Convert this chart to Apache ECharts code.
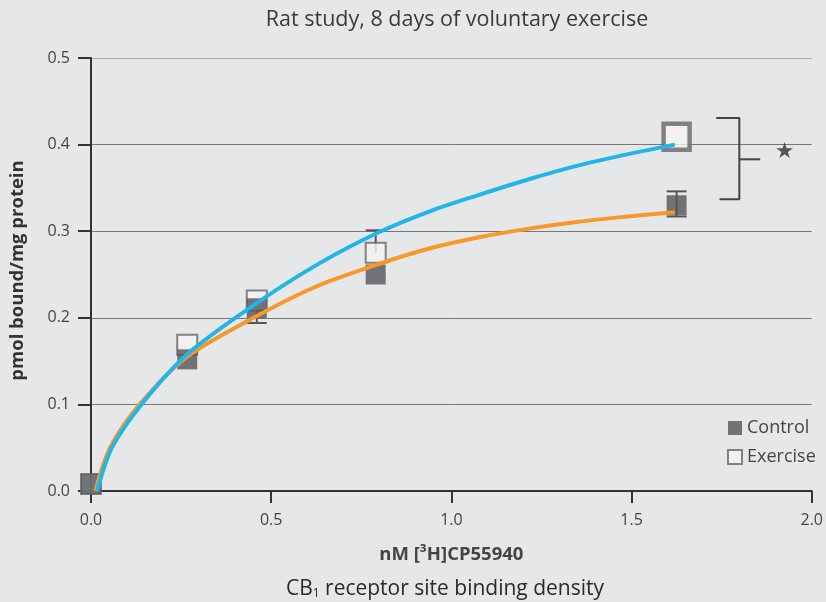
<!DOCTYPE html>
<html><head><meta charset="utf-8">
<script src="https://cdn.jsdelivr.net/npm/echarts@6/dist/echarts.min.js"></script>
<style>html,body{margin:0;padding:0;background:#e6e7e9;}#c{width:826px;height:602px;}</style>
</head><body><div id="c"></div>
<script>
// ---- data ----
const titleText = 'Rat study, 8 days of voluntary exercise';
const xAxisName = 'nM [³H]CP55940';
const yAxisName = 'pmol bound/mg protein';
const seriesNames = ['Control', 'Exercise'];

const pointX = [0.0, 0.267, 0.46, 0.79, 1.625];
const controlY = [0.008, 0.152, 0.211, 0.250, 0.330];
const exerciseY = [0.008, 0.169, 0.220, 0.275, 0.409];

const controlErrLow  = [null, null, 0.194, null, 0.317];
const controlErrHigh = [null, null, null, null, 0.346];
const exerciseErrHigh = [null, null, null, 0.301, null];

const exerciseFitX = [0.017, 0.058, 0.14, 0.267, 0.46, 0.63, 0.80, 0.94, 1.077, 1.215, 1.353, 1.49, 1.62];
const exerciseFitY = [0.0, 0.05, 0.10, 0.158, 0.217, 0.262, 0.299, 0.323, 0.342, 0.360, 0.376, 0.389, 0.400];
const controlFitX = [0.012, 0.053, 0.135, 0.267, 0.46, 0.63, 0.82, 0.939, 1.077, 1.215, 1.353, 1.49, 1.62];
const controlFitY = [0.0, 0.05, 0.10, 0.155, 0.202, 0.237, 0.265, 0.280, 0.293, 0.303, 0.311, 0.317, 0.322];

const bracketX = [1.735, 1.799, 1.799, 1.744];
const bracketY = [0.4306, 0.4306, 0.3368, 0.3368];
const bracketTickX = [1.799, 1.857];
const bracketTickY = [0.383, 0.383];
const starPos = [1.925, 0.391];

// ---- build ----
const zip = (a, b) => a.map((v, i) => [v, b[i]]);
const whiskers = [];
pointX.forEach((x, i) => {
  if (controlErrLow[i] != null) whiskers.push([x, controlY[i], controlErrLow[i]]);
  if (controlErrHigh[i] != null) whiskers.push([x, controlY[i], controlErrHigh[i]]);
  if (exerciseErrHigh[i] != null) whiskers.push([x, exerciseY[i], exerciseErrHigh[i]]);
});
const lastIdx = pointX.length - 1;
const exerciseData = zip(pointX, exerciseY).map((d, i) =>
  i === lastIdx ? {value: d, symbolSize: 26, itemStyle: {borderWidth: 4.5}} : d);

const FONT = 'Open Sans';
const chart = echarts.init(document.getElementById('c'), null, {renderer: 'canvas'});
chart.setOption({
  backgroundColor: '#e6e7e9',
  animation: false,
  textStyle: {fontFamily: FONT},
  title: [{
    text: titleText, left: 452, textAlign: 'center', top: 4,
    textStyle: {fontFamily: FONT, fontSize: 21.5, fontWeight: 'normal', color: '#3a3a3a'}
  }, {
    text: '{a|CB}{s|1}{a| receptor site binding density}', left: 440, textAlign: 'center', top: 573,
    textStyle: {fontWeight: 'normal', rich: {
      a: {fontFamily: FONT, fontSize: 21, fontWeight: 'normal', color: '#2a2a2a'},
      s: {fontFamily: FONT, fontSize: 12, fontWeight: 'normal', color: '#2a2a2a', verticalAlign: 'bottom', padding: [10, 0, 0, 0]}
    }}
  }],
  legend: {
    data: seriesNames, orient: 'vertical', left: 722, top: 414,
    itemWidth: 14, itemHeight: 14, itemGap: 11,
    textStyle: {fontFamily: FONT, fontSize: 18, lineHeight: 18, color: '#444'}
  },
  grid: {left: 89, right: 11, top: 58, bottom: 111, containLabel: false},
  xAxis: {
    type: 'value', min: 0, max: 2, interval: 0.5,
    name: xAxisName, nameLocation: 'middle', nameGap: 54,
    nameTextStyle: {fontFamily: FONT, fontSize: 18.5, fontWeight: 'bold', color: '#444'},
    axisLine: {show: true, lineStyle: {color: '#333', width: 2}},
    axisTick: {show: true, length: 12, lineStyle: {color: '#333', width: 2}},
    axisLabel: {margin: 21, fontSize: 16, color: '#444', fontFamily: FONT, formatter: v => v.toFixed(1)},
    splitLine: {show: false}
  },
  yAxis: {
    type: 'value', min: 0, max: 0.5, interval: 0.1,
    name: yAxisName, nameLocation: 'middle', nameGap: 64, nameRotate: 90,
    nameTextStyle: {fontFamily: FONT, fontSize: 18.5, fontWeight: 'bold', color: '#333', padding: [0, 0, 0, 8]},
    axisLine: {show: true, lineStyle: {color: '#333', width: 2}},
    axisTick: {show: true, length: 13, lineStyle: {color: '#333', width: 2}},
    axisLabel: {margin: 21, fontSize: 16, color: '#444', fontFamily: FONT, formatter: v => v.toFixed(1)},
    splitLine: {show: true, lineStyle: {color: ['#777', '#777', '#777', '#777', '#777', '#aaa'], width: 1}}
  },
  series: [
    {
      type: 'custom', name: 'err', z: 2, silent: true,
      renderItem: (params, api) => {
        const x = api.value(0), c = api.value(1), e = api.value(2);
        const p0 = api.coord([x, c]), p1 = api.coord([x, e]);
        const st = {stroke: '#555', lineWidth: 2};
        return {type: 'group', children: [
          {type: 'line', shape: {x1: p0[0], y1: p0[1], x2: p1[0], y2: p1[1]}, style: st},
          {type: 'line', shape: {x1: p1[0] - 10, y1: p1[1], x2: p1[0] + 10, y2: p1[1]}, style: st}
        ]};
      },
      data: whiskers
    },
    {
      type: 'scatter', name: seriesNames[1], z: 3, clip: false,
      symbol: 'rect', symbolSize: 20,
      itemStyle: {color: '#f4f4f4', borderColor: '#666', borderWidth: 2},
      data: exerciseData
    },
    {
      type: 'scatter', name: seriesNames[0], z: 4, clip: false,
      symbol: 'rect', symbolSize: 20,
      itemStyle: {color: '#545557'},
      data: zip(pointX, controlY)
    },
    {
      type: 'line', name: 'controlFit', z: 5, smooth: 0.3, showSymbol: false, silent: true,
      lineStyle: {color: '#f7982a', width: 4},
      data: zip(controlFitX, controlFitY)
    },
    {
      type: 'line', name: 'exerciseFit', z: 6, smooth: 0.3, showSymbol: false, silent: true,
      lineStyle: {color: '#21b6ea', width: 4},
      data: zip(exerciseFitX, exerciseFitY)
    },
    {
      type: 'line', name: 'bracket', z: 6, showSymbol: false, silent: true, clip: false,
      lineStyle: {color: '#444', width: 2},
      data: zip(bracketX, bracketY)
    },
    {
      type: 'line', name: 'bracketTick', z: 6, showSymbol: false, silent: true, clip: false,
      lineStyle: {color: '#444', width: 2},
      data: zip(bracketTickX, bracketTickY)
    },
    {
      type: 'scatter', name: 'star', z: 6, silent: true, clip: false,
      symbolSize: 0,
      label: {show: true, position: 'inside', formatter: '★', fontSize: 22, color: '#333', fontFamily: 'DejaVu Sans'},
      data: [starPos]
    }
  ]
});
</script></body></html>
